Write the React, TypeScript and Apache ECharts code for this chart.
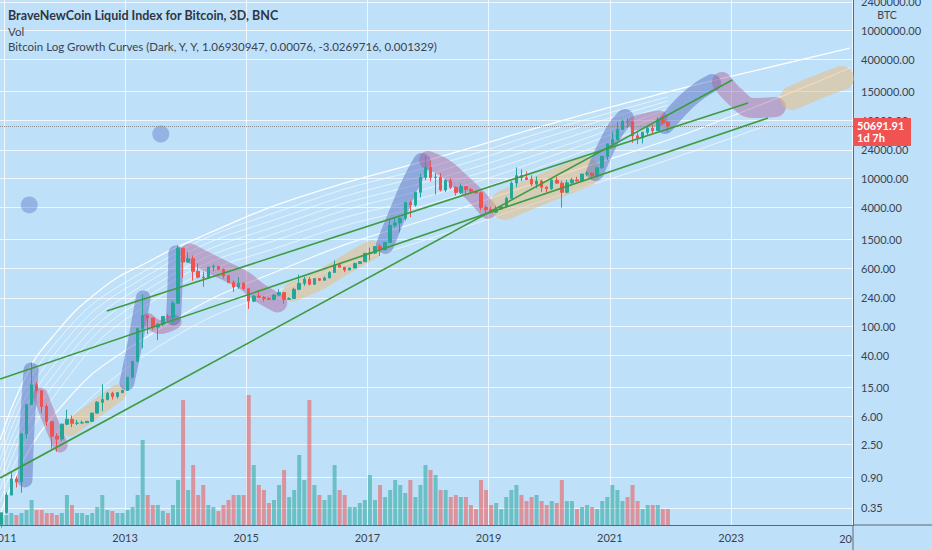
import React, { useEffect, useRef } from "react";
import * as echarts from "echarts";

// ---- axis ranges (decimal years, prices) ----
const X_MIN = 2010.937;
const X_MAX = 2025.013;
const P_MIN = 0.205;
const P_MAX = 2553000;

const yearGridTicks = [2011, 2013, 2015, 2017, 2019, 2021, 2023, 2025];
const yearLabelTicks = [2011, 2013, 2015, 2017, 2019, 2021, 2023];
const priceTickLabels = [
  "0.35", "0.90", "2.50", "6.00", "15.00", "40.00", "100.00", "240.00", "600.00",
  "1500.00", "4000.00", "10000.00", "24000.00", "60000.00", "150000.00", "400000.00",
  "1000000.00", "2400000.00",
];

const LAST_PRICE = 50691.91;

// month, open, high, low, close
const ohlc: [string, number, number, number, number][] = [
  ["2010-12", 0.21, 0.3, 0.19, 0.3],
  ["2011-01", 0.3, 0.56, 0.29, 0.52], ["2011-02", 0.52, 1.1, 0.52, 0.86], ["2011-03", 0.86, 0.93, 0.66, 0.78],
  ["2011-04", 0.78, 3.5, 0.56, 3.5], ["2011-05", 3.5, 8.7, 3.0, 8.7], ["2011-06", 8.7, 31.9, 8.7, 16.1],
  ["2011-07", 16.1, 17.5, 12.6, 13.4], ["2011-08", 13.4, 13.5, 6.6, 8.2], ["2011-09", 8.2, 8.9, 4.5, 5.1],
  ["2011-10", 5.1, 5.2, 2.2, 3.25], ["2011-11", 3.25, 3.6, 2.0, 2.97], ["2011-12", 2.97, 4.8, 2.8, 4.72],
  ["2012-01", 4.72, 7.38, 4.6, 5.5], ["2012-02", 5.5, 6.2, 4.3, 4.86], ["2012-03", 4.86, 5.4, 4.6, 4.9],
  ["2012-04", 4.9, 5.3, 4.8, 4.95], ["2012-05", 4.95, 5.2, 4.9, 5.16], ["2012-06", 5.16, 6.7, 5.2, 6.68],
  ["2012-07", 6.68, 9.7, 6.6, 9.35], ["2012-08", 9.35, 16.4, 7.1, 10.15], ["2012-09", 10.15, 12.9, 9.9, 12.4],
  ["2012-10", 12.4, 13.0, 10.2, 11.2], ["2012-11", 11.2, 12.8, 10.5, 12.6], ["2012-12", 12.6, 13.8, 12.5, 13.5],
  ["2013-01", 13.5, 20.4, 13.3, 20.4], ["2013-02", 20.4, 33.5, 19.6, 33.4], ["2013-03", 33.4, 95, 33, 93],
  ["2013-04", 93, 266, 50, 139], ["2013-05", 139, 140, 79, 129], ["2013-06", 129, 129, 89, 97],
  ["2013-07", 97, 110, 65, 106], ["2013-08", 106, 137, 100, 135], ["2013-09", 135, 146, 118, 133],
  ["2013-10", 133, 220, 107, 204], ["2013-11", 204, 1240, 198, 1130], ["2013-12", 1130, 1150, 450, 732],
  ["2014-01", 732, 1000, 720, 815], ["2014-02", 815, 900, 410, 549], ["2014-03", 549, 700, 440, 458],
  ["2014-04", 458, 545, 340, 448], ["2014-05", 448, 630, 440, 628], ["2014-06", 628, 680, 550, 641],
  ["2014-07", 641, 650, 570, 586], ["2014-08", 586, 600, 440, 480], ["2014-09", 480, 490, 380, 387],
  ["2014-10", 387, 415, 290, 338], ["2014-11", 338, 460, 320, 378], ["2014-12", 378, 390, 310, 320],
  ["2015-01", 320, 320, 170, 217], ["2015-02", 217, 265, 210, 254], ["2015-03", 254, 300, 240, 245],
  ["2015-04", 245, 255, 215, 236], ["2015-05", 236, 245, 225, 230], ["2015-06", 230, 267, 220, 263],
  ["2015-07", 263, 315, 255, 284], ["2015-08", 284, 285, 200, 230], ["2015-09", 230, 245, 225, 236],
  ["2015-10", 236, 330, 236, 314], ["2015-11", 314, 495, 305, 378], ["2015-12", 378, 465, 350, 430],
  ["2016-01", 430, 460, 355, 368], ["2016-02", 368, 445, 365, 437], ["2016-03", 437, 440, 405, 416],
  ["2016-04", 416, 465, 415, 448], ["2016-05", 448, 550, 445, 531], ["2016-06", 531, 770, 530, 673],
  ["2016-07", 673, 680, 610, 624], ["2016-08", 624, 630, 535, 573], ["2016-09", 573, 615, 570, 609],
  ["2016-10", 609, 725, 610, 700], ["2016-11", 700, 750, 690, 742], ["2016-12", 742, 970, 740, 964],
  ["2017-01", 964, 1150, 780, 970], ["2017-02", 970, 1200, 940, 1190], ["2017-03", 1190, 1290, 890, 1080],
  ["2017-04", 1080, 1360, 1060, 1350], ["2017-05", 1350, 2760, 1350, 2300], ["2017-06", 2300, 2980, 2150, 2480],
  ["2017-07", 2480, 2920, 1850, 2870], ["2017-08", 2870, 4750, 2680, 4700], ["2017-09", 4700, 4980, 2970, 4340],
  ["2017-10", 4340, 6470, 4110, 6450], ["2017-11", 6450, 11400, 5500, 10200], ["2017-12", 10200, 19800, 9400, 14000],
  ["2018-01", 14000, 17100, 9000, 10200], ["2018-02", 10200, 11800, 6000, 10300], ["2018-03", 10300, 11700, 6600, 6900],
  ["2018-04", 6900, 9750, 6500, 9250], ["2018-05", 9250, 9950, 7100, 7500], ["2018-06", 7500, 7750, 5800, 6400],
  ["2018-07", 6400, 8450, 6100, 7700], ["2018-08", 7700, 7760, 5900, 7030], ["2018-09", 7030, 7400, 6100, 6630],
  ["2018-10", 6630, 6700, 6150, 6320], ["2018-11", 6320, 6550, 3650, 4020], ["2018-12", 4020, 4300, 3150, 3740],
  ["2019-01", 3740, 4100, 3350, 3460], ["2019-02", 3460, 4200, 3380, 3820], ["2019-03", 3820, 4150, 3730, 4100],
  ["2019-04", 4100, 5620, 4050, 5320], ["2019-05", 5320, 9050, 5300, 8570], ["2019-06", 8570, 13900, 7500, 10800],
  ["2019-07", 10800, 13150, 9100, 10080], ["2019-08", 10080, 12300, 9400, 9600], ["2019-09", 9600, 10900, 7800, 8300],
  ["2019-10", 8300, 10500, 7300, 9150], ["2019-11", 9150, 9500, 6500, 7550], ["2019-12", 7550, 7750, 6400, 7200],
  ["2020-01", 7200, 9600, 6900, 9350], ["2020-02", 9350, 10500, 8450, 8550], ["2020-03", 8550, 9200, 4000, 6430],
  ["2020-04", 6430, 9450, 6200, 8640], ["2020-05", 8640, 10050, 8150, 9450], ["2020-06", 9450, 10400, 8950, 9140],
  ["2020-07", 9140, 11450, 9050, 11340], ["2020-08", 11340, 12450, 10600, 11650], ["2020-09", 11650, 12050, 9900, 10780],
  ["2020-10", 10780, 14000, 10550, 13800], ["2020-11", 13800, 19900, 13300, 19700], ["2020-12", 19700, 29300, 17600, 29000],
  ["2021-01", 29000, 41900, 28200, 33100], ["2021-02", 33100, 58300, 32300, 45200], ["2021-03", 45200, 61700, 45000, 58800],
  ["2021-04", 58800, 64800, 47200, 57700], ["2021-05", 57700, 59500, 30000, 37300], ["2021-06", 37300, 41300, 28800, 35000],
  ["2021-07", 35000, 42400, 29300, 41500], ["2021-08", 41500, 50500, 37400, 47100], ["2021-09", 47100, 52900, 39800, 43800],
  ["2021-10", 43800, 67000, 43300, 61300], ["2021-11", 61300, 69000, 53300, 57000], ["2021-12", 57000, 59000, 42000, 50691.91],
];

// monthly volume, relative units (same order as ohlc)
const volumes = [
  8,
  10, 12, 10, 12, 15, 25, 15, 15, 12, 12, 10, 12,
  30, 20, 12, 12, 10, 12, 18, 30, 15, 14, 12, 12,
  15, 18, 30, 85, 30, 20, 20, 14, 12, 20, 45, 125,
  35, 60, 30, 40, 20, 18, 14, 20, 25, 30, 30, 30,
  130, 60, 40, 35, 22, 25, 40, 55, 28, 35, 70, 45,
  125, 40, 30, 25, 30, 60, 35, 30, 18, 18, 22, 25,
  50, 25, 40, 28, 35, 45, 40, 32, 45, 28, 40, 60,
  55, 50, 35, 35, 28, 30, 28, 28, 20, 16, 45, 35,
  20, 22, 16, 28, 35, 40, 30, 24, 28, 30, 24, 20,
  24, 22, 45, 24, 24, 16, 18, 20, 18, 16, 24, 28,
  40, 35, 24, 28, 40, 24, 16, 20, 20, 20, 16, 16,
];

// ---- log growth curves: [decimal year, price] ----
const growthTop = [
  [2010.94, 2.89], [2011.35, 19.9], [2011.76, 64.9], [2012.59, 308], [2013.41, 759], [2014.24, 1600],
  [2015.89, 5560], [2018.36, 21200], [2020.18, 59100], [2021.96, 146000], [2023.31, 272000], [2024.96, 573000],
];
const growthLow = [
  [2010.94, 0.28], [2011.76, 5.38], [2013.41, 75.9], [2015.89, 735], [2018.36, 3480], [2020.18, 11000],
  [2021.96, 32700], [2022.93, 64900], [2023.97, 141000], [2024.96, 308000],
];
const growthYears = [2010.94, 2011.76, 2013.41, 2015.89, 2018.36, 2020.18, 2021.96];
const growthFib1 = [2.12, 47.5, 610, 4470, 17000, 49100, 125000];
const growthFib2 = [1.55, 34.8, 506, 3590, 13700, 40700, 110000];
const growthFib3 = [1.14, 25.5, 407, 2890, 11000, 32700, 97300];
const growthFib4 = [0.834, 18.7, 327, 2320, 8870, 26300, 85900];
const growthFib5 = [0.61, 13.7, 263, 1870, 6910, 21800, 75900];
const growthFib6 = [0.42, 9.44, 205, 1460, 5390, 17600, 64900];
const growthSupport = [
  [2011.76, 2.89], [2013.41, 44.7], [2015.89, 395], [2018.36, 1870], [2020.18, 5910], [2021.96, 17600], [2023.61, 52200],
];

// ---- trend lines ----
const trendA = [[2010.94, 19.3], [2023.61, 64900]];
const trendB = [[2012.7, 160], [2023.28, 103500]];
const trendC = [[2010.94, 0.887], [2023.02, 211800]];

// ---- hand-drawn cycle highlights ----
const blueBlob2011 = [[2011.35, 0.834], [2011.38, 3.94], [2011.42, 11.7], [2011.45, 25.5]];
const purpleBlob2011 = [[2011.6, 11.7], [2011.76, 5.38], [2011.93, 2.48]];
const tanBlob2012 = [[2012.09, 4.2], [2012.5, 7.35], [2012.88, 12.5]];
const blueBlob2013a = [[2013.03, 17.0], [2013.16, 55.6], [2013.25, 141], [2013.3, 240]];
const purpleBlob2013 = [[2013.38, 121], [2013.58, 97.3], [2013.82, 114]];
const blueBlob2013b = [[2013.8, 129], [2013.825, 360], [2013.84, 973]];
const purpleBlob2014 = [[2014.07, 973], [2014.52, 629], [2014.95, 420], [2015.23, 280], [2015.52, 205]];
const tanBlob2016 = [[2015.76, 289], [2016.22, 420], [2016.63, 670], [2017.07, 1070]];
const blueBlob2017 = [[2017.29, 1247], [2017.49, 3180], [2017.7, 8070], [2017.9, 16500]];
const purpleBlob2018 = [[2018.0, 17600], [2018.28, 13700], [2018.56, 8600], [2018.82, 5390], [2018.99, 3710]];
const tanBlob2019 = [[2019.27, 4340], [2019.93, 7350], [2020.59, 12100]];
const blueBlob2020 = [[2020.76, 12100], [2020.92, 24000], [2021.09, 44700], [2021.25, 64900]];
const purpleBlob2021 = [[2021.42, 55600], [2021.63, 61000], [2021.83, 64900]];
const blueBlob2022 = [[2021.91, 52200], [2022.08, 75900], [2022.29, 113800], [2022.49, 155000], [2022.69, 193000]];
const purpleBlob2023 = [[2022.85, 199000], [2023.07, 125000], [2023.35, 88700], [2023.74, 91500]];
const tanBlob2024 = [[2024.01, 121000], [2024.39, 165000], [2024.83, 225000]];
const dots = [[2011.42, 4340], [2013.59, 39400]];

const BG = "#bfe0f9";
const TEXT = "#3b4350";
const AXIS = "#5f6877";
const UP = "#26a69a";
const DOWN = "#ef5350";
const BLUE = "rgba(70,90,180,0.42)";
const PURPLE = "rgba(170,95,150,0.45)";
const TAN = "rgba(235,185,120,0.5)";
const GREEN = "#3d9b40";
const FONT = "Lato, 'Open Sans', sans-serif";

const L = Math.log10;
const monthToYear = (m: string) => {
  const [y, mo] = m.split("-").map(Number);
  return y + (mo - 0.5) / 12;
};
const toLog = (pts: number[][]) => pts.map(([x, p]) => [x, L(p)]);

export default function App() {
  const ref = useRef<HTMLDivElement>(null);

  useEffect(() => {
    if (!ref.current) return;
    const chart = echarts.init(ref.current, null, { renderer: "svg" });

    const candleData = ohlc.map(([m, o, h, l, c]) => [monthToYear(m), L(o), L(c), L(l), L(h)]);
    const volData = ohlc.map(([m, o, , , c], i) => ({
      value: [monthToYear(m), volumes[i]],
      itemStyle: { color: c >= o ? "rgba(38,166,154,0.55)" : "rgba(239,83,80,0.55)" },
    }));
    const volMax = Math.max(...volumes) * 4.04;

    const priceTickVals = priceTickLabels.map((s) => L(parseFloat(s)));
    const priceFmt = (v: number) => {
      let best = 0;
      priceTickVals.forEach((t, i) => {
        if (Math.abs(t - v) < Math.abs(priceTickVals[best] - v)) best = i;
      });
      return priceTickLabels[best];
    };

    const curve = (pts: number[][], width: number, opacity: number, z = 2) => ({
      type: "line",
      data: toLog(pts),
      smooth: 0.5,
      symbol: "none",
      silent: true,
      z,
      lineStyle: { color: `rgba(255,255,255,${opacity})`, width },
    });
    const fib = (vals: number[]) => growthYears.map((y, i) => [y, vals[i]]);

    const blob = (pts: number[][], color: string, width: number) => ({
      type: "line",
      data: toLog(pts),
      smooth: 0.4,
      symbol: "none",
      silent: true,
      z: 3,
      lineStyle: { color, width, cap: "round", join: "round" },
    });
    const trend = (pts: number[][]) => ({
      type: "line",
      data: toLog(pts),
      symbol: "none",
      silent: true,
      z: 6,
      lineStyle: { color: GREEN, width: 1.6 },
    });

    const option: any = {
      animation: false,
      backgroundColor: BG,
      grid: { left: 0, right: 79, top: 0, bottom: 25, containLabel: false, outerBoundsMode: "none" },
      xAxis: {
        type: "value",
        min: X_MIN,
        max: X_MAX,
        axisLine: { show: true, onZero: false, lineStyle: { color: AXIS, width: 1 } },
        axisTick: { show: false, customValues: yearGridTicks },
        splitLine: { show: true, lineStyle: { color: "rgba(255,255,255,0.75)", width: 1 } },
        axisLabel: {
          customValues: yearLabelTicks,
          formatter: (v: number) => String(Math.round(v)),
          color: TEXT,
          fontSize: 11,
          fontFamily: FONT,
          margin: 7,
          alignMinLabel: "center",
        },
      },
      yAxis: [
        {
          type: "value",
          position: "right",
          min: L(P_MIN),
          max: L(P_MAX),
          axisLine: { show: true, onZero: false, lineStyle: { color: AXIS, width: 1 } },
          axisTick: { show: false, customValues: priceTickVals },
          splitLine: { show: true, lineStyle: { color: "rgba(255,255,255,0.75)", width: 1 } },
          axisLabel: {
            customValues: priceTickVals,
            formatter: priceFmt,
            color: TEXT,
            fontSize: 11,
            fontFamily: FONT,
            margin: 8,
            align: "left",
          },
        },
        { type: "value", min: 0, max: volMax, show: false, position: "right" },
      ],
      series: [
        {
          type: "bar",
          yAxisIndex: 1,
          data: volData,
          barWidth: 4,
          silent: true,
          z: 1,
        },
        curve(growthTop, 1.3, 0.95),
        curve(growthLow, 1.2, 0.9),
        curve(fib(growthFib1), 1, 0.6),
        curve(fib(growthFib2), 1, 0.6),
        curve(fib(growthFib3), 1, 0.6),
        curve(fib(growthFib4), 1, 0.6),
        curve(fib(growthFib5), 1, 0.6),
        curve(fib(growthFib6), 1, 0.6),
        curve(growthSupport, 1, 0.6),
        blob(blueBlob2011, BLUE, 15),
        blob(purpleBlob2011, PURPLE, 15),
        blob(tanBlob2012, TAN, 17),
        blob(blueBlob2013a, BLUE, 15),
        blob(purpleBlob2013, PURPLE, 14),
        blob(blueBlob2013b, BLUE, 15),
        blob(purpleBlob2014, PURPLE, 19),
        blob(tanBlob2016, TAN, 19),
        blob(blueBlob2017, BLUE, 18),
        blob(purpleBlob2018, PURPLE, 18),
        blob(tanBlob2019, TAN, 30),
        blob(blueBlob2020, BLUE, 18),
        blob(purpleBlob2021, PURPLE, 15),
        blob(blueBlob2022, BLUE, 18),
        blob(purpleBlob2023, PURPLE, 20),
        blob(tanBlob2024, TAN, 24),
        {
          type: "scatter",
          data: toLog(dots),
          symbolSize: 17,
          silent: true,
          z: 3,
          itemStyle: { color: BLUE },
        },
        {
          type: "candlestick",
          data: candleData,
          encode: { x: 0, y: [1, 2, 3, 4] },
          barWidth: 3,
          silent: true,
          z: 5,
          itemStyle: { color: UP, color0: DOWN, borderColor: UP, borderColor0: DOWN, borderWidth: 1 },
          markLine: {
            silent: true,
            symbol: "none",
            label: { show: false },
            lineStyle: { color: "#8c8f96", type: "dotted", width: 1 },
            data: [{ yAxis: L(LAST_PRICE) }],
          },
        },
        trend(trendA),
        trend(trendB),
        trend(trendC),
      ],
    };

    chart.setOption(option);

    const py = chart.convertToPixel({ yAxisIndex: 0 }, L(LAST_PRICE)) as number;
    const axisX = chart.convertToPixel({ xAxisIndex: 0 }, X_MAX) as number;

    chart.setOption({
      graphic: [
        {
          type: "text", x: 8, y: 15, z: 50,
          style: { text: "BraveNewCoin Liquid Index for Bitcoin, 3D, BNC", fill: "#2f3642", fontSize: 12.5, fontWeight: "bold", fontFamily: FONT, verticalAlign: "middle" },
        },
        {
          type: "text", x: 8, y: 31, z: 50,
          style: { text: "Vol", fill: TEXT, fontSize: 11.5, fontFamily: FONT, verticalAlign: "middle" },
        },
        {
          type: "text", x: 8, y: 46, z: 50,
          style: { text: "Bitcoin Log Growth Curves (Dark, Y, Y, 1.06930947, 0.00076, -3.0269716, 0.001329)", fill: TEXT, fontSize: 11.5, fontFamily: FONT, verticalAlign: "middle" },
        },
        {
          type: "text", x: 887, y: 15, z: 50,
          style: { text: "BTC", fill: TEXT, fontSize: 10.5, fontFamily: FONT, align: "center", verticalAlign: "middle" },
        },
        {
          type: "text", x: axisX - 1, y: 538, z: 50,
          style: { text: "20", fill: TEXT, fontSize: 11, fontFamily: FONT, align: "right", verticalAlign: "middle" },
        },
        {
          type: "line", z: 50,
          shape: { x1: axisX, y1: 525, x2: 932, y2: 525 },
          style: { stroke: AXIS, lineWidth: 1 },
        },
        {
          type: "line", z: 50,
          shape: { x1: axisX, y1: 525, x2: axisX, y2: 550 },
          style: { stroke: AXIS, lineWidth: 1 },
        },
        {
          type: "rect", z: 100,
          shape: { x: axisX, y: py - 8, width: 58, height: 28 },
          style: { fill: "#f05352" },
        },
        {
          type: "text", x: axisX + 4, y: py, z: 101,
          style: { text: "50691.91", fill: "#ffffff", fontSize: 11, fontWeight: "bold", fontFamily: FONT, verticalAlign: "middle" },
        },
        {
          type: "text", x: axisX + 4, y: py + 12, z: 101,
          style: { text: "1d 7h", fill: "#ffffff", fontSize: 11, fontWeight: "bold", fontFamily: FONT, verticalAlign: "middle" },
        },
      ],
    });

    return () => chart.dispose();
  }, []);

  return (
    <div
      ref={ref}
      style={{ position: "fixed", left: 0, top: 0, width: 932, height: 550 }}
    />
  );
}
